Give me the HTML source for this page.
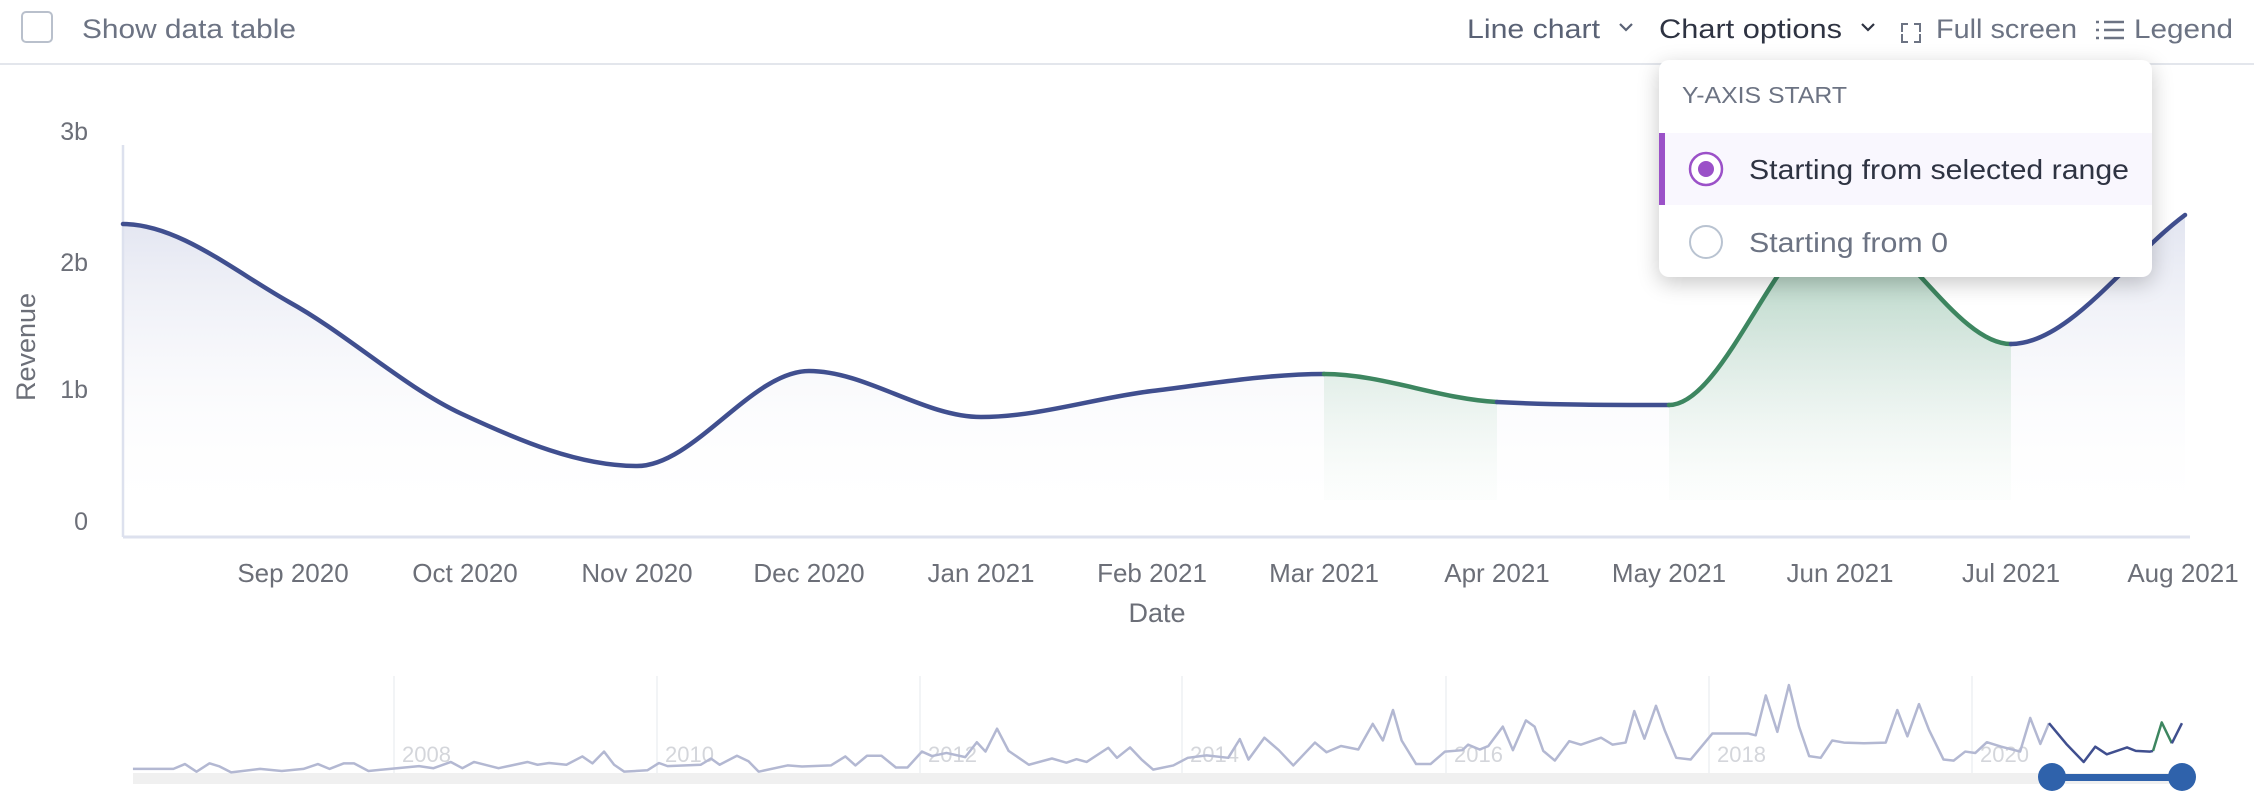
<!DOCTYPE html>
<html><head><meta charset="utf-8"><style>
html,body{margin:0;padding:0;background:#fff;}
body{width:2254px;height:798px;overflow:hidden;position:relative;font-family:"Liberation Sans",sans-serif;}
.dd{position:absolute;left:1659px;top:60px;width:493px;height:217px;background:#fff;border-radius:10px;box-shadow:0 6px 22px rgba(0,0,0,0.22);overflow:hidden;}
</style></head><body>
<svg width="2254" height="798" style="position:absolute;left:0;top:0" xmlns="http://www.w3.org/2000/svg">
<defs>
<linearGradient id="bf" gradientUnits="userSpaceOnUse" x1="0" y1="200" x2="0" y2="520"><stop offset="0" stop-color="#dfe2ef"/><stop offset="1" stop-color="#fff" stop-opacity="0"/></linearGradient>
<linearGradient id="gf" gradientUnits="userSpaceOnUse" x1="0" y1="220" x2="0" y2="500"><stop offset="0" stop-color="#8fc3a3" stop-opacity="0.75"/><stop offset="1" stop-color="#e6f2ea" stop-opacity="0.1"/></linearGradient>
</defs>
<rect x="22" y="12" width="30" height="30" rx="4" fill="none" stroke="#b9c0cc" stroke-width="2"/>
<text x="82" y="38" font-size="27" fill="#6c7383" textLength="214" lengthAdjust="spacingAndGlyphs">Show data table</text>
<text x="1467" y="38" font-size="27" fill="#5a6275" textLength="133" lengthAdjust="spacingAndGlyphs">Line chart</text>
<path d="M1620 24l6 6 6-6" fill="none" stroke="#5a6275" stroke-width="2.2"/>
<text x="1659" y="38" font-size="27" fill="#2e3342" textLength="183" lengthAdjust="spacingAndGlyphs">Chart options</text>
<path d="M1862 24l6 6 6-6" fill="none" stroke="#2e3342" stroke-width="2.2"/>
<path d="M1902 34v8h6M1902 32v-8h6M1914 24h6v8M1920 34v8h-6" fill="none" stroke="#6c7383" stroke-width="2"/>
<text x="1936" y="38" font-size="27" fill="#6c7383" textLength="141" lengthAdjust="spacingAndGlyphs">Full screen</text>
<g stroke="#6c7383" stroke-width="2.5"><path d="M2104 22h20M2104 30h20M2104 38h20"/><path d="M2096 22h3M2096 30h3M2096 38h3"/></g>
<text x="2134" y="38" font-size="27" fill="#6c7383" textLength="99" lengthAdjust="spacingAndGlyphs">Legend</text>
<line x1="0" y1="64" x2="2254" y2="64" stroke="#e3e6ec" stroke-width="2"/>
<g font-size="25" fill="#6c6f78" text-anchor="end">
<text x="88" y="140">3b</text><text x="88" y="271">2b</text><text x="88" y="398">1b</text><text x="88" y="530">0</text></g>
<text transform="translate(35,347) rotate(-90)" font-size="27" fill="#6c6f78" text-anchor="middle">Revenue</text>
<path d="M123 224C178 224 234 271 289 302C347 334 404 387 462 414C520 441 579 466 637 466C694 466 752 371 809 371C866 371 924 417 981 417C1038 417 1095 398 1152 391C1209 384 1267 374 1324 374C1382 374 1439 399 1497 402C1554 405 1612 405 1669 405C1726 405 1783 220 1840 220C1897 220 1954 344 2011 344C2069 344 2127 258 2185 215L2185 537L123 537Z" fill="url(#bf)"/>
<path d="M1324 374C1382 374 1439 399 1497 402L1497 500L1324 500Z" fill="url(#gf)"/>
<path d="M1669 405C1726 405 1783 220 1840 220C1897 220 1954 344 2011 344L2011 500L1669 500Z" fill="url(#gf)"/>
<line x1="123" y1="145" x2="123" y2="537" stroke="#dde1ee" stroke-width="2.5"/>
<line x1="123" y1="537" x2="2190" y2="537" stroke="#dde1ee" stroke-width="3"/>
<g fill="none" stroke-width="4.5" stroke-linecap="round">
<path d="M123 224C178 224 234 271 289 302C347 334 404 387 462 414C520 441 579 466 637 466C694 466 752 371 809 371C866 371 924 417 981 417C1038 417 1095 398 1152 391C1209 384 1267 374 1324 374" stroke="#404f8f"/>
<path d="M1324 374C1382 374 1439 399 1497 402" stroke="#3d8660"/>
<path d="M1497 402C1554 405 1612 405 1669 405" stroke="#404f8f"/>
<path d="M1669 405C1726 405 1783 220 1840 220C1897 220 1954 344 2011 344" stroke="#3d8660"/>
<path d="M2011 344C2069 344 2127 258 2185 215" stroke="#404f8f"/>
</g>
<g font-size="26" fill="#6c6f78" text-anchor="middle">
<text x="293" y="582">Sep 2020</text><text x="465" y="582">Oct 2020</text><text x="637" y="582">Nov 2020</text><text x="809" y="582">Dec 2020</text><text x="981" y="582">Jan 2021</text><text x="1152" y="582">Feb 2021</text><text x="1324" y="582">Mar 2021</text><text x="1497" y="582">Apr 2021</text><text x="1669" y="582">May 2021</text><text x="1840" y="582">Jun 2021</text><text x="2011" y="582">Jul 2021</text><text x="2183" y="582">Aug 2021</text>
</g>
<text x="1157" y="622" font-size="27" fill="#6c6f78" text-anchor="middle">Date</text>
<g stroke="#eef0f3" stroke-width="1.5"><path d="M394 676V773M657 676V773M920 676V773M1182 676V773M1446 676V773M1709 676V773M1972 676V773"/></g>
<g font-size="22" fill="#d4d6db"><text x="402" y="762">2008</text><text x="665" y="762">2010</text><text x="928" y="762">2012</text><text x="1190" y="762">2014</text><text x="1454" y="762">2016</text><text x="1717" y="762">2018</text><text x="1980" y="762">2020</text></g>
<rect x="133" y="773" width="2056" height="11" fill="#f0f0f0"/>
<g transform="translate(0,640) scale(1.445,0.3465)" fill="none" stroke-linejoin="round">
<polyline vector-effect="non-scaling-stroke" stroke="#b3b8d2" stroke-width="2.5" points="92,372 120,372 128,358 136,380 145,356 152,365 160,382 180,372 195,378 210,372 220,358 228,372 238,356 245,356 255,378 270,372 290,364 300,370 312,352 320,370 328,352 345,370 365,352 372,360 380,355 392,360 403,336 410,356 418,322 425,360 432,380 448,376 456,355 462,364 485,360 492,342 498,360 510,334 518,350 525,380 545,362 555,365 575,362 585,336 592,362 600,334 610,334 620,368 628,368 638,322 645,335 655,326 668,338 676,295 682,322 690,256 698,320 712,360 728,342 738,354 745,344 752,352 767,311 773,340 782,310 790,345 798,374 812,362 822,340 835,333 850,340 858,286 864,345 875,282 885,318 895,362 910,296 918,324 928,306 940,316 950,242 957,290 964,202 970,290 980,358 990,358 1000,322 1012,318 1016,302 1024,316 1030,306 1040,250 1047,318 1056,232 1062,250 1068,320 1076,348 1086,292 1094,302 1108,282 1116,302 1125,296 1131,205 1138,285 1146,190 1152,260 1160,340 1170,345 1185,270 1210,270 1215,275 1222,160 1230,265 1238,130 1245,250 1252,335 1260,340 1268,290 1276,296 1290,298 1305,296 1313,202 1320,278 1328,185 1335,260 1345,345 1352,348 1360,322 1367,326 1375,295 1385,308 1398,322 1405,225 1412,300 1418,240"/>
<polyline vector-effect="non-scaling-stroke" stroke="#404f8f" stroke-width="2.5" points="1418,240 1430,300 1442,352 1450,308 1458,330 1472,310 1478,320 1488,322 1490,320"/>
<polyline vector-effect="non-scaling-stroke" stroke="#3d8660" stroke-width="2.5" points="1490,320 1496,238 1503,298"/>
<polyline vector-effect="non-scaling-stroke" stroke="#404f8f" stroke-width="2.5" points="1503,298 1510,240"/>
</g>
<rect x="2052" y="774" width="130" height="7" fill="#2f62ab"/>
<circle cx="2052" cy="777" r="14" fill="#2f62ab"/><circle cx="2182" cy="777" r="14" fill="#2f62ab"/>
</svg>
<div class="dd">
<svg width="493" height="217" style="position:absolute;left:0;top:0" xmlns="http://www.w3.org/2000/svg">
<text x="23" y="43" font-size="23" fill="#6c7383" font-family="Liberation Sans" textLength="165" lengthAdjust="spacingAndGlyphs">Y-AXIS START</text>
<rect x="0" y="73" width="493" height="72" fill="#f9f7fe"/>
<rect x="0" y="73" width="6" height="72" fill="#9b51c8"/>
<circle cx="47" cy="109" r="16" fill="#fff" stroke="#9b51c8" stroke-width="2.5"/>
<circle cx="47" cy="109" r="8" fill="#9b51c8"/>
<text x="90" y="119" font-size="28" fill="#2e3342" font-family="Liberation Sans" textLength="380" lengthAdjust="spacingAndGlyphs">Starting from selected range</text>
<circle cx="47" cy="182" r="16" fill="#fff" stroke="#b9c3d1" stroke-width="2"/>
<text x="90" y="192" font-size="28" fill="#6c7383" font-family="Liberation Sans" textLength="199" lengthAdjust="spacingAndGlyphs">Starting from 0</text>
</svg>
</div>
</body></html>
